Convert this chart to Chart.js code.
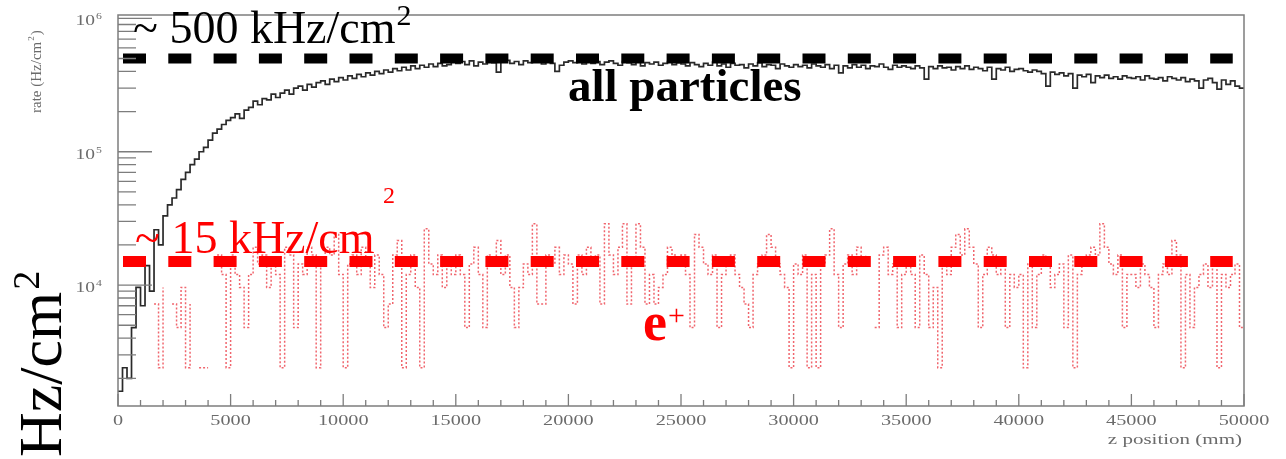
<!DOCTYPE html>
<html>
<head>
<meta charset="utf-8">
<script src="https://cdn.jsdelivr.net/npm/chart.js@4/dist/chart.umd.min.js"></script>
<style>
  html, body { margin: 0; padding: 0; background: #fff; }
  #wrap { width: 1286px; height: 459px; position: relative; }
</style>
</head>
<body>
<div id="wrap"><canvas id="rateChart" width="1286" height="459"></canvas></div>
<script>
// bin width of the histograms (mm), bins start at z = 0
const BIN_WIDTH = 200;

// rate of all particles (Hz/cm2), one value per bin
const allParticles = [
  1600, 2400, 2000, 4800, 9600, 7000, 14000, 9000, 26000, 20000, 33000, 40000, 45000, 52000, 62000, 70000, 80000, 88000, 100000, 108000, 122000, 138000, 148000, 160000, 172000,
  180000, 192000, 178000, 205000, 215000, 240000, 225000, 250000, 245000, 270000, 255000, 275000, 290000, 270000, 300000, 310000, 290000, 320000, 305000, 330000, 340000, 320000, 350000, 335000, 360000,
  345000, 370000, 355000, 380000, 365000, 390000, 375000, 400000, 385000, 410000, 395000, 420000, 405000, 430000, 410000, 440000, 420000, 445000, 430000, 455000, 435000, 460000, 440000, 450000, 470000,
  460000, 475000, 450000, 480000, 440000, 470000, 455000, 490000, 465000, 395000, 470000, 485000, 460000, 475000, 450000, 480000, 465000, 490000, 470000, 455000, 480000, 460000, 400000, 445000, 470000,
  480000, 465000, 470000, 455000, 485000, 460000, 475000, 450000, 470000, 480000, 460000, 445000, 475000, 465000, 450000, 470000, 440000, 465000, 455000, 470000, 445000, 460000, 475000, 450000, 465000,
  455000, 440000, 465000, 450000, 435000, 460000, 445000, 470000, 440000, 455000, 430000, 460000, 445000, 450000, 425000, 455000, 440000, 465000, 435000, 450000, 445000, 420000, 455000, 440000, 430000,
  450000, 435000, 445000, 425000, 455000, 440000, 430000, 450000, 420000, 445000, 390000, 440000, 425000, 450000, 430000, 445000, 420000, 440000, 435000, 455000, 430000, 415000, 445000, 430000, 440000,
  430000, 420000, 440000, 425000, 350000, 435000, 420000, 440000, 425000, 430000, 410000, 435000, 420000, 440000, 415000, 430000, 420000, 405000, 430000, 350000, 420000, 410000, 430000, 400000, 415000,
  420000, 405000, 395000, 410000, 400000, 385000, 310000, 395000, 380000, 390000, 370000, 385000, 300000, 375000, 365000, 380000, 330000, 370000, 360000, 375000, 355000, 365000, 350000, 370000, 360000,
  355000, 365000, 345000, 370000, 355000, 350000, 360000, 340000, 365000, 355000, 345000, 360000, 335000, 350000, 340000, 300000, 345000, 355000, 330000, 295000, 345000, 320000, 340000, 310000, 300000
];

// rate of positrons (Hz/cm2), null = nothing filled yet, 0 = empty bin
const positrons = [
  null, null, null, null, 2400, 0, 4800, 0, 7200, 2400, 9600, 0, 7200, 4800, 9600, 2400, 7200, 0, 2400, 2400, 2400, 0, 16800, 12000, 2400,
  16800, 12000, 9600, 4800, 12000, 19200, 14400, 16800, 9600, 14400, 12000, 2400, 19200, 16800, 4800, 14400, 12000, 19200, 16800, 2400, 14400, 19200, 16800, 24000, 12000,
  2400, 14400, 16800, 12000, 19200, 14400, 9600, 16800, 12000, 4800, 7200, 16800, 21600, 2400, 12000, 16800, 9600, 2400, 26400, 14400, 12000, 16800, 9600, 14400, 12000,
  16800, 12000, 4800, 14400, 19200, 12000, 4800, 16800, 14400, 21600, 12000, 16800, 9600, 4800, 9600, 14400, 12000, 28800, 7200, 7200, 16800, 14400, 19200, 12000, 16800,
  14400, 7200, 16800, 12000, 19200, 14400, 16800, 7200, 28800, 16800, 12000, 19200, 28800, 7200, 14400, 28800, 19200, 7200, 12000, 7200, 9600, 12000, 19200, 16800, 14400,
  16800, 12000, 4800, 24000, 19200, 14400, 12000, 16800, 4800, 12000, 14400, 16800, 12000, 9600, 7200, 4800, 12000, 14400, 16800, 24000, 19200, 14400, 12000, 9600, 2400,
  14400, 12000, 16800, 2400, 12000, 2400, 14400, 16800, 26400, 12000, 4800, 14400, 16800, 12000, 19200, 14400, 16800, 0, 4800, 16800, 19200, 12000, 14400, 4800, 12000,
  14400, 12000, 4800, 16800, 12000, 4800, 9600, 2400, 14400, 12000, 19200, 24000, 16800, 26400, 19200, 14400, 4800, 12000, 19200, 16800, 12000, 14400, 4800, 12000, 9600,
  12000, 2400, 14400, 4800, 12000, 16800, 14400, 9600, 12000, 14400, 4800, 16800, 2400, 12000, 14400, 16800, 19200, 16800, 28800, 19200, 14400, 12000, 16800, 4800, 12000,
  12000, 9600, 14400, 12000, 9600, 4800, 12000, 14400, 12000, 21600, 16800, 2400, 12000, 4800, 9600, 12000, 14400, 9600, 14400, 2400, 12000, 9600, 12000, 14400, 4800
];

// reference levels drawn as thick dashed lines
const levelAll = 5e5;
const levelPositron = 1.5e4;
const levelFrom = 222;
const levelTo = 49500;

// axis ranges and ticks
const X_MIN = 0, X_MAX = 50000;
const Y_MIN = 1240, Y_MAX = 1.06e6;
const xMajorTicks = [0, 5000, 10000, 15000, 20000, 25000, 30000, 35000, 40000, 45000, 50000];
const xTickLabels = ["0", "5000", "10000", "15000", "20000", "25000", "30000", "35000", "40000", "45000", "50000"];
const yMajorTicks = [1e4, 1e5, 1e6];
const yTickExponents = ["4", "5", "6"];

// histogram -> step points (left edge of every bin + closing point)
function toSteps(values) {
  const pts = values.map((v, i) => ({ x: i * BIN_WIDTH, y: v }));
  pts.push({ x: values.length * BIN_WIDTH, y: values[values.length - 1] });
  return pts;
}

const AXIS_GREY = "#7d7d7d";
const LABEL_GREY = "#6b6b6b";
const SERIF = '"Liberation Serif", "DejaVu Serif", serif';

// text squeezed like the stretched ROOT picture
function stretchedText(ctx, text, x, y, align, sx) {
  ctx.save();
  ctx.translate(x, y);
  ctx.scale(sx, 1);
  ctx.textAlign = align;
  ctx.fillText(text, 0, 0);
  ctx.restore();
}

const rootAxes = {
  id: "rootAxes",
  afterDraw(chart) {
    const ctx = chart.ctx;
    const area = chart.chartArea;
    const xs = chart.scales.x;
    const ys = chart.scales.y;

    ctx.save();
    ctx.strokeStyle = AXIS_GREY;
    ctx.lineWidth = 1.5;
    // frame
    ctx.strokeRect(area.left, area.top, area.right - area.left, area.bottom - area.top);

    // x ticks (major every 5000, minor every 1000)
    ctx.lineWidth = 1.3;
    ctx.beginPath();
    for (let v = X_MIN; v <= X_MAX; v += 1000) {
      const px = xs.getPixelForValue(v);
      const len = v % 5000 === 0 ? 12 : 6;
      ctx.moveTo(px, area.bottom);
      ctx.lineTo(px, area.bottom - len);
    }
    // y ticks (major at decades, minor 2..9)
    for (let d = 3; d <= 6; d++) {
      for (let m = 1; m <= 9; m++) {
        const v = m * Math.pow(10, d);
        if (v < Y_MIN || v > Y_MAX) continue;
        const py = ys.getPixelForValue(v);
        const len = m === 1 ? 34 : 18;
        ctx.moveTo(area.left, py);
        ctx.lineTo(area.left + len, py);
      }
    }
    ctx.stroke();

    // x tick labels
    ctx.fillStyle = LABEL_GREY;
    ctx.font = "15px " + SERIF;
    ctx.textBaseline = "alphabetic";
    xMajorTicks.forEach((v, i) => {
      stretchedText(ctx, xTickLabels[i], xs.getPixelForValue(v), 425, "center", 1.35);
    });
    stretchedText(ctx, "z position (mm)", 1242, 444, "right", 1.4);

    // y tick labels 10^n
    yMajorTicks.forEach((v, i) => {
      const py = ys.getPixelForValue(v);
      ctx.font = "15px " + SERIF;
      stretchedText(ctx, "10", 95, py + 7, "right", 1.3);
      ctx.font = "9px " + SERIF;
      stretchedText(ctx, yTickExponents[i], 96, py + 1, "left", 1.3);
    });

    // y title
    ctx.save();
    ctx.translate(41, 113);
    ctx.rotate(-Math.PI / 2);
    ctx.textAlign = "left";
    ctx.font = "15px " + SERIF;
    const t1 = "rate (Hz/cm";
    ctx.fillText(t1, 0, 0);
    let w = ctx.measureText(t1).width;
    ctx.font = "9px " + SERIF;
    ctx.fillText("2", w + 1, -7);
    w += ctx.measureText("2").width + 2;
    ctx.font = "15px " + SERIF;
    ctx.fillText(")", w, 0);
    ctx.restore();

    // annotations
    ctx.textAlign = "left";
    ctx.fillStyle = "#000";
    ctx.font = "46px " + SERIF;
    ctx.fillText("~ 500 kHz/cm", 133, 43);
    let w2 = ctx.measureText("~ 500 kHz/cm").width;
    ctx.font = "30px " + SERIF;
    ctx.fillText("2", 133 + w2 + 1, 25);

    ctx.font = "bold 47px " + SERIF;
    ctx.fillText("all particles", 568, 101);

    ctx.fillStyle = "#ff0000";
    ctx.font = "46px " + SERIF;
    ctx.fillText("~ 15 kHz/cm", 135, 253);
    ctx.font = "24px " + SERIF;
    ctx.fillText("2", 383, 203);

    ctx.font = "bold 54px " + SERIF;
    ctx.fillText("e", 643, 340);
    ctx.font = "30px " + SERIF;
    ctx.fillText("+", 668, 325);

    // big unit label on the left
    ctx.fillStyle = "#000";
    ctx.save();
    ctx.translate(61, 457);
    ctx.rotate(-Math.PI / 2);
    ctx.font = "62px " + SERIF;
    ctx.fillText("Hz/cm", 0, 0);
    const w3 = ctx.measureText("Hz/cm").width;
    ctx.font = "38px " + SERIF;
    ctx.fillText("2", w3 + 2, -22);
    ctx.restore();

    ctx.restore();
  }
};

new Chart(document.getElementById("rateChart"), {
  type: "line",
  data: {
    datasets: [
      {
        data: [{ x: levelFrom, y: levelAll }, { x: levelTo, y: levelAll }],
        borderColor: "#000",
        borderWidth: 10,
        borderDash: [23, 22.3],
        borderCapStyle: "butt",
        pointRadius: 0
      },
      {
        data: [{ x: levelFrom, y: levelPositron }, { x: levelTo, y: levelPositron }],
        borderColor: "#ff0000",
        borderWidth: 11,
        borderDash: [23, 22.3],
        borderCapStyle: "butt",
        pointRadius: 0
      },
      {
        label: "all particles",
        data: toSteps(allParticles),
        stepped: true,
        borderColor: "#2a2a2a",
        borderWidth: 1.7,
        pointRadius: 0
      },
      {
        label: "e+",
        data: toSteps(positrons),
        stepped: true,
        borderColor: "rgba(235, 50, 60, 0.75)",
        borderWidth: 1.5,
        borderDash: [2, 2],
        pointRadius: 0
      }
    ]
  },
  options: {
    responsive: false,
    animation: false,
    devicePixelRatio: 1,
    layout: { padding: { left: 118, right: 42, top: 15, bottom: 53 } },
    plugins: { legend: { display: false }, tooltip: { enabled: false } },
    scales: {
      x: { type: "linear", min: X_MIN, max: X_MAX, display: false },
      y: { type: "logarithmic", min: Y_MIN, max: Y_MAX, display: false }
    }
  },
  plugins: [rootAxes]
});
</script>
</body>
</html>
